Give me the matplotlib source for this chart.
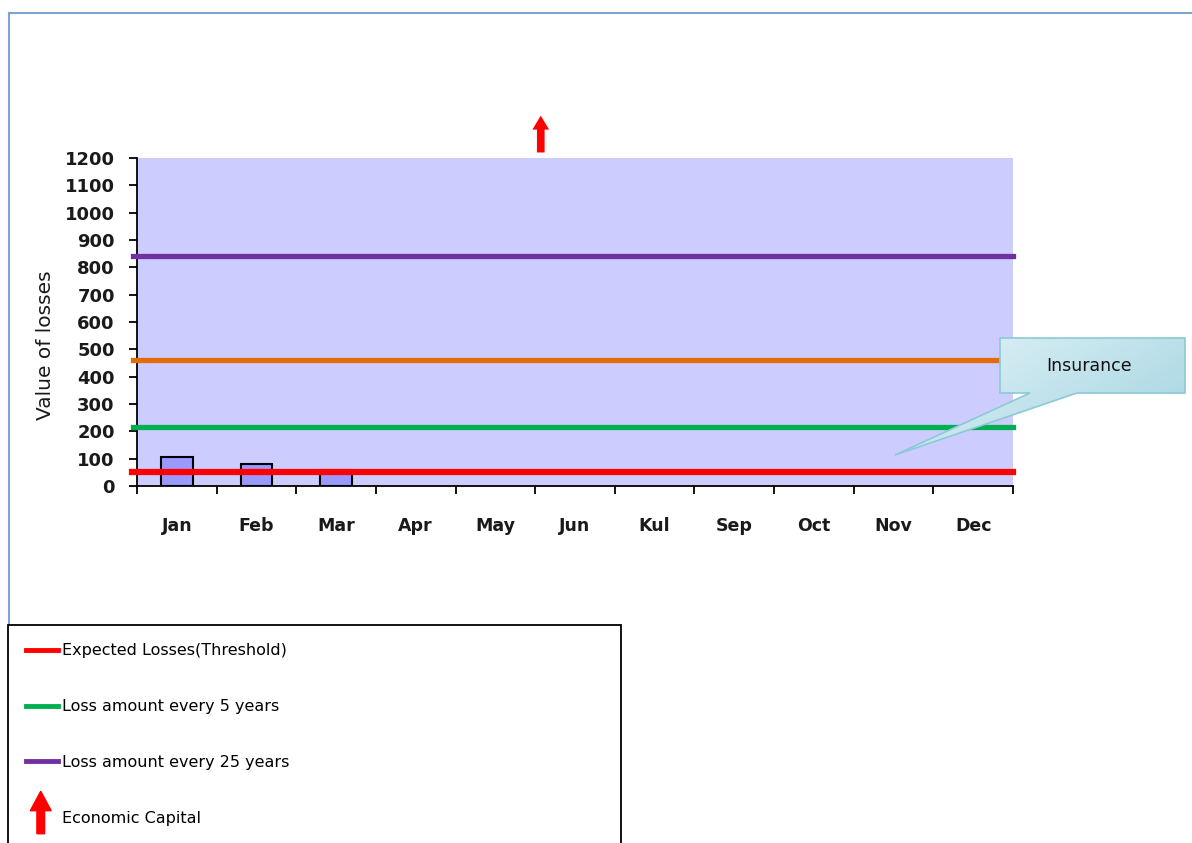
import matplotlib
matplotlib.use("Agg")
import matplotlib.pyplot as plt
import numpy as np
from matplotlib.lines import Line2D
from matplotlib.patches import Polygon, FancyArrow
from matplotlib.legend_handler import HandlerBase

# data
months = ['Jan', 'Feb', 'Mar', 'Apr', 'May', 'Jun', 'Kul', 'Sep', 'Oct', 'Nov', 'Dec']
monthly_losses = [105, 82, 60, 0, 0, 0, 0, 0, 0, 0, 0]
expected_losses = 50
loss_5_years = 215
insurance_level = 460
loss_25_years = 840
economic_capital_base = 1210
economic_capital_top = 1365
yticks = list(range(0, 1300, 100))

W, H = 1192, 843


def fx(px):
    return px / W


def fy(py):
    return 1 - py / H


class ArrowHandler(HandlerBase):
    def create_artists(self, legend, orig_handle, xdescent, ydescent,
                       width, height, fontsize, trans):
        x = width * 0.45 - xdescent
        arr = FancyArrow(x, -1.0 * height, 0, 3.8 * height, width=5.5,
                         head_width=15, head_length=14,
                         length_includes_head=True, color='#ff0000',
                         transform=trans)
        return [arr]


fig = plt.figure(figsize=(W / 100, H / 100), dpi=100)

# outer chart frame (top and left edge visible)
fig.add_artist(Line2D([fx(9), fx(W)], [fy(13), fy(13)], color='#7fa3d3', lw=1.5))
fig.add_artist(Line2D([fx(9), fx(9)], [fy(13), fy(630)], color='#7fa3d3', lw=1.5))

ax = fig.add_axes([fx(137), fy(486), fx(1013) - fx(137), fy(158) - fy(486)])
ax.set_facecolor('#ccccff')

x = np.arange(len(months))
edge_w = [1.5 if v > 0 else 0 for v in monthly_losses]
ax.bar(x, monthly_losses, width=0.4, color='#9999ff', edgecolor='black', lw=edge_w, zorder=2)

ax.axhline(loss_25_years, xmin=-0.004, color='#7030a0', lw=3.8, zorder=3, clip_on=False)
ax.axhline(insurance_level, xmin=-0.004, color='#e36c09', lw=3.8, zorder=3, clip_on=False)
ax.axhline(loss_5_years, xmin=-0.004, color='#00b050', lw=3.8, zorder=3, clip_on=False)
ax.axhline(expected_losses, xmin=-0.006, color='#ff0000', lw=4.5, zorder=3, clip_on=False)

ax.set_xlim(-0.5, len(months) - 0.5)
ax.set_ylim(0, 1200)
ax.set_yticks(yticks)
ax.set_yticklabels([str(v) for v in yticks], fontsize=13, fontweight='bold', color='#1a1a1a')

ax.set_xticks(np.arange(len(months) + 1) - 0.5)
ax.set_xticklabels([])
ax.set_xticks(x, minor=True)
ax.set_xticklabels(months, minor=True, fontsize=12.5, fontweight='bold', color='#1a1a1a')
ax.tick_params(axis='x', which='minor', length=0, pad=22)
ax.tick_params(axis='x', which='major', length=6, width=1.3, direction='out')
ax.tick_params(axis='y', length=6, width=1.3, direction='out', pad=10)

for s in ['top', 'right']:
    ax.spines[s].set_visible(False)
for s in ['left', 'bottom']:
    ax.spines[s].set_linewidth(1.3)

ax.set_ylabel('Value of losses', fontsize=14.5, color='#1a1a1a')
ax.yaxis.set_label_coords(-0.094, 0.43)

# economic capital arrow above the plot
ax.annotate('', xy=(4.57, economic_capital_top), xytext=(4.57, economic_capital_base),
            arrowprops=dict(arrowstyle='simple,head_width=1.2,head_length=1.0,tail_width=0.55',
                            color='#ff0000', lw=0), annotation_clip=False)

# insurance callout
pts = [(1000, 338), (1185, 338), (1185, 393), (1077, 393), (895, 455), (1030, 393), (1000, 393)]
callout = Polygon([(fx(a), fy(b)) for a, b in pts], closed=True,
                  transform=fig.transFigure, facecolor='none',
                  edgecolor='#8cc9d6', lw=1.2, zorder=5)
gax = fig.add_axes([0, 0, 1, 1], facecolor='none')
gax.set_xlim(0, 1)
gax.set_ylim(0, 1)
gax.axis('off')
gx, gy = np.meshgrid(np.linspace(0, 1, 200), np.linspace(0, 1, 60))
grad = 0.6 * gx + 0.4 * (1 - gy)
cmap = matplotlib.colors.LinearSegmentedColormap.from_list('ins', ['#e6f4f8', '#9fd3e0'])
img = gax.imshow(grad, extent=[fx(890), fx(1186), fy(458), fy(337)],
                 cmap=cmap, aspect='auto', origin='lower', zorder=4)
fill = Polygon([(fx(a), fy(b)) for a, b in pts], closed=True,
               transform=fig.transFigure, facecolor='none', edgecolor='none')
gax.add_patch(fill)
img.set_clip_path(fill)
fig.add_artist(callout)
fig.text(fx(1089), fy(366), 'Insurance', fontsize=12.5, ha='center', va='center', color='#111111')

# legend
handles = [
    Line2D([], [], color='#ff0000', lw=3.5),
    Line2D([], [], color='#00b050', lw=3.5),
    Line2D([], [], color='#7030a0', lw=3.5),
    FancyArrow(0, 0, 0, 1),
]
labels = ['Expected Losses(Threshold)', 'Loss amount every 5 years',
          'Loss amount every 25 years', 'Economic Capital']
leg = fig.legend(handles, labels, loc='upper left',
                 bbox_to_anchor=(fx(8), fy(880), fx(621) - fx(8), fy(625) - fy(880)),
                 mode='expand', fontsize=11.5, frameon=True, fancybox=False,
                 edgecolor='black', framealpha=1, labelspacing=2.55, borderpad=1.15,
                 handlelength=2.0, handletextpad=0.2, borderaxespad=0,
                 handler_map={FancyArrow: ArrowHandler()})
leg.get_frame().set_linewidth(1.3)

fig.savefig('out.png', dpi=100)
